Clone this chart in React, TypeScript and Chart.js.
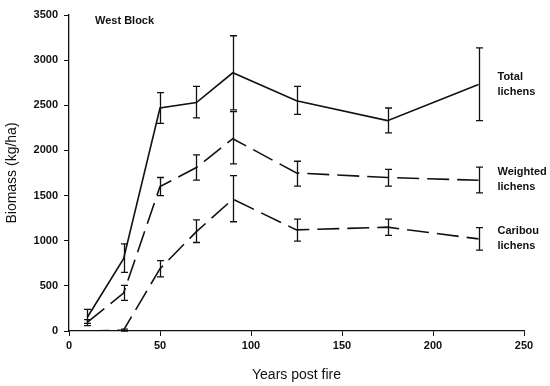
import React, { useEffect, useRef } from "react";
import { Chart, registerables } from "chart.js";

Chart.register(...registerables);

const years = [10, 30, 50, 70, 90, 125, 175, 225];

const totalMean = [150, 800, 2470, 2530, 2860, 2550, 2330, 2730];
const totalLow = [85, 650, 2300, 2360, 2450, 2400, 2195, 2330];
const totalHigh = [240, 965, 2640, 2710, 3270, 2710, 2470, 3135];

const weightedMean = [95, 420, 1600, 1810, 2130, 1750, 1700, 1670];
const weightedLow = [60, 340, 1500, 1670, 1850, 1605, 1605, 1530];
const weightedHigh = [125, 505, 1700, 1950, 2430, 1880, 1790, 1815];

const caribouMean = [0, 10, 690, 1100, 1460, 1120, 1150, 1020];
const caribouLow = [0, 0, 600, 980, 1210, 995, 1060, 895];
const caribouHigh = [0, 20, 780, 1230, 1720, 1240, 1240, 1145];

const seriesLabels = [
  ["Total", "lichens"],
  ["Weighted", "lichens"],
  ["Caribou", "lichens"],
];

const yTicks = [0, 500, 1000, 1500, 2000, 2500, 3000, 3500];
const xTicks = [0, 50, 100, 150, 200, 250];

const FONT = "'Liberation Sans', Arial, sans-serif";

const errLows = [totalLow, weightedLow, caribouLow];
const errHighs = [totalHigh, weightedHigh, caribouHigh];

const errorBarPlugin = {
  id: "errorBars",
  afterDatasetsDraw(chart: any) {
    const ctx = chart.ctx;
    const xs = chart.scales.x;
    const ys = chart.scales.y;
    ctx.save();
    ctx.strokeStyle = "#111";
    ctx.lineWidth = 1.3;
    chart.data.datasets.forEach((ds: any, i: number) => {
      const lows = errLows[i];
      const highs = errHighs[i];
      years.forEach((yr, j) => {
        if (highs[j] - lows[j] < 1) return;
        const px = Math.round(xs.getPixelForValue(yr)) + 0.5;
        const pl = ys.getPixelForValue(lows[j]);
        const ph = ys.getPixelForValue(highs[j]);
        ctx.beginPath();
        ctx.moveTo(px, pl);
        ctx.lineTo(px, ph);
        ctx.moveTo(px - 3.5, pl);
        ctx.lineTo(px + 3.5, pl);
        ctx.moveTo(px - 3.5, ph);
        ctx.lineTo(px + 3.5, ph);
        ctx.stroke();
      });
    });
    // series labels at the right
    ctx.fillStyle = "#111";
    ctx.font = "bold 11px " + FONT;
    ctx.textAlign = "left";
    ctx.textBaseline = "middle";
    const means = [totalMean, weightedMean, caribouMean];
    means.forEach((m, i) => {
      const last = m.length - 1;
      const px = xs.getPixelForValue(years[last]) + 19;
      const py = ys.getPixelForValue(m[last]);
      ctx.fillText(seriesLabels[i][0], px, py - 8);
      ctx.fillText(seriesLabels[i][1], px, py + 7);
    });
    // panel label
    ctx.fillText("West Block", chart.chartArea.left + 26, chart.chartArea.top + 6);
    ctx.restore();
  },
};

function toPoints(v: number[]) {
  return years.map((x, i) => ({ x, y: v[i] }));
}

export default function App() {
  const ref = useRef<HTMLCanvasElement>(null);
  useEffect(() => {
    if (!ref.current) return;
    const chart = new Chart(ref.current, {
      type: "line",
      data: {
        datasets: [
          {
            label: "Total lichens",
            data: toPoints(totalMean),
            borderColor: "#111",
            borderWidth: 1.6,
            pointRadius: 0,
            tension: 0,
          },
          {
            label: "Weighted lichens",
            data: toPoints(weightedMean),
            borderColor: "#111",
            borderWidth: 1.6,
            borderDash: [22, 8],
            pointRadius: 0,
            tension: 0,
          },
          {
            label: "Caribou lichens",
            data: toPoints(caribouMean),
            borderColor: "#111",
            borderWidth: 1.6,
            borderDash: [22, 8],
            pointRadius: 0,
            tension: 0,
          },
        ],
      },
      options: {
        animation: false,
        responsive: false,
        maintainAspectRatio: false,
        layout: { padding: { top: 15, right: 26, left: 0, bottom: 0 } },
        plugins: {
          legend: { display: false },
          tooltip: { enabled: false },
        },
        scales: {
          x: {
            type: "linear",
            min: 0,
            max: 250,
            afterBuildTicks: (s: any) => {
              s.ticks = xTicks.map((v) => ({ value: v }));
            },
            afterFit: (s: any) => {
              s.height = 55;
            },
            grid: {
              drawOnChartArea: false,
              drawTicks: true,
              tickLength: 5,
              color: "#111",
            },
            border: { color: "#111", width: 1.3 },
            ticks: {
              color: "#111",
              padding: 3,
              font: { family: FONT, size: 11, weight: "bold" },
              maxRotation: 0,
              callback: (v: any) => String(v),
            },
            title: {
              display: true,
              text: "Years post fire",
              color: "#111",
              font: { family: FONT, size: 14 },
              padding: { top: 4, bottom: 2 },
            },
          },
          y: {
            type: "linear",
            min: 0,
            max: 3500,
            afterBuildTicks: (s: any) => {
              s.ticks = yTicks.map((v) => ({ value: v }));
            },
            afterFit: (s: any) => {
              s.width = 69;
            },
            grid: {
              drawOnChartArea: false,
              drawTicks: true,
              tickLength: 5,
              color: "#111",
            },
            border: { color: "#111", width: 1.3 },
            ticks: {
              color: "#111",
              padding: 6,
              font: { family: FONT, size: 11, weight: "bold" },
              callback: (v: any) => String(v),
            },
            title: {
              display: true,
              text: "Biomass (kg/ha)",
              color: "#111",
              font: { family: FONT, size: 14 },
              padding: { top: 4, bottom: 0 },
            },
          },
        },
      },
      plugins: [errorBarPlugin],
    } as any);
    return () => chart.destroy();
  }, []);
  return (
    <div style={{ position: "absolute", left: 0, top: 0, width: 550, height: 386, background: "#fff" }}>
      <canvas ref={ref} width={550} height={386} style={{ width: 550, height: 386 }} />
    </div>
  );
}
